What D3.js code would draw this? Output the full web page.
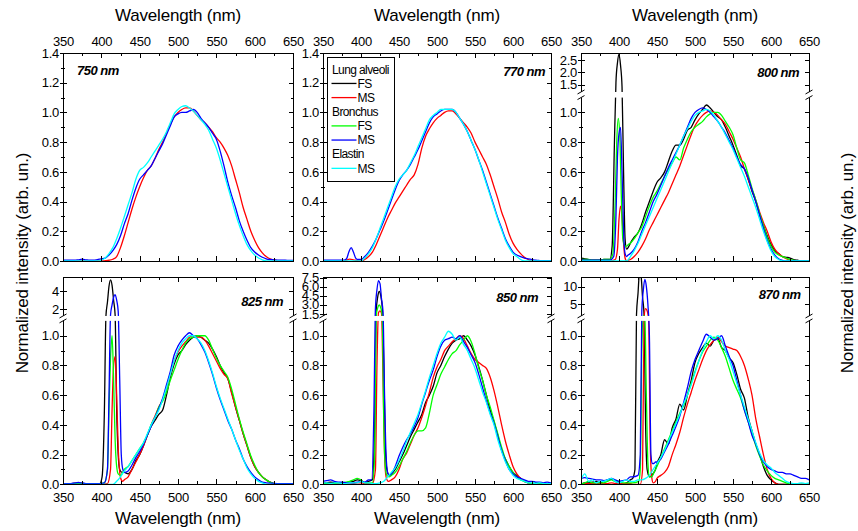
<!DOCTYPE html>
<html><head><meta charset="utf-8">
<script src="https://cdn.jsdelivr.net/npm/d3@7"></script>
<style>
body{margin:0;background:#fff;}
svg{font-family:"Liberation Sans",Arial,sans-serif;}
</style></head><body>
<svg id="c" width="858" height="531"></svg>
<script>
// ---------- DATA ----------
const wl = [350,355,360,365,370,375,380,385,390,395,
            400,405,410,415,420,425,430,435,440,445,
            450,455,460,465,470,475,480,485,490,495,
            500,505,510,515,520,525,530,535,540,545,
            550,555,560,565,570,575,580,585,590,595,
            600,605,610,615,620,625,630,635,640,645,650];

const seriesNames = ["FS","MS","FS","MS","MS"];
const seriesGroups = ["Lung alveoli","Lung alveoli","Bronchus","Bronchus","Elastin"];
const seriesColors = ["#000000","#ff0000","#00ff00","#0000ff","#00ffff"];
const panelLabels = ["750 nm","770 nm","800 nm","825 nm","850 nm","870 nm"];
const xMajor = [350,400,450,500,550,600,650];
const xMinor = [375,425,475,525,575,625];
const yMajorFull = [0,0.2,0.4,0.6,0.8,1.0,1.2,1.4];
const yMinorFull = [0.1,0.3,0.5,0.7,0.9,1.1,1.3];
const yMajorBroken = [0,0.2,0.4,0.6,0.8,1.0];
const yMinorBroken = [0.1,0.3,0.5,0.7,0.9];
const upperTicks800 = [1.5,2.0,2.5];
const upperTicks825 = [2,4];
const upperTicks850 = [1.5,3.0,4.5,6.0,7.5];
const upperTicks870 = [5,10];

// 750 nm
const red750 = [0,0,0,0,0,0,0,0,0,0,
 0,0.002,0.005,0.012,0.03,0.09,0.17,0.26,0.35,0.43,
 0.5,0.56,0.61,0.64,0.69,0.75,0.8,0.86,0.92,0.97,
 1.0,1.02,1.03,1.03,1.01,0.98,0.95,0.93,0.9,0.87,
 0.83,0.8,0.76,0.71,0.64,0.55,0.46,0.36,0.28,0.2,
 0.14,0.09,0.055,0.03,0.015,0.007,0.002,0,0,0,0];
const blue750 = [0.005,0.005,0.005,0.005,0.008,0.012,0.008,0.005,0.005,0.01,
 0.015,0.02,0.04,0.07,0.11,0.17,0.25,0.32,0.41,0.49,
 0.55,0.58,0.61,0.64,0.69,0.74,0.79,0.85,0.91,0.97,
 0.99,1.0,1.0,1.01,1.02,1.0,0.96,0.93,0.9,0.86,
 0.82,0.74,0.64,0.53,0.44,0.36,0.27,0.2,0.14,0.09,
 0.06,0.04,0.025,0.015,0.01,0.008,0.006,0.005,0.005,0.004,0.004];
const cyan750 = [0,0,0,0,0,0,0,0,0,0,
 0.005,0.02,0.05,0.09,0.15,0.22,0.3,0.38,0.46,0.55,
 0.61,0.63,0.66,0.7,0.74,0.78,0.82,0.87,0.93,0.99,
 1.02,1.04,1.045,1.03,1.01,0.98,0.95,0.92,0.88,0.82,
 0.76,0.68,0.59,0.5,0.41,0.32,0.24,0.17,0.11,0.07,
 0.04,0.02,0.008,0,0,0,0,0,0,0,0];

// 770 nm
const red770 = [0,0,0,0,0,0,0.004,0.012,0.008,0.002,
 0,0.01,0.03,0.06,0.11,0.17,0.23,0.29,0.34,0.39,
 0.43,0.47,0.51,0.55,0.58,0.65,0.76,0.84,0.89,0.93,
 0.96,0.98,1.0,1.01,1.01,0.99,0.96,0.93,0.9,0.86,
 0.8,0.75,0.7,0.65,0.58,0.5,0.42,0.33,0.26,0.18,
 0.12,0.08,0.05,0.025,0.01,0,0,0,0,0,0];
const blue770 = [0.005,0.005,0.005,0.005,0.005,0.005,0.008,0.08,0.05,0.01,
 0.01,0.03,0.06,0.1,0.15,0.21,0.27,0.34,0.41,0.48,
 0.54,0.58,0.61,0.65,0.7,0.75,0.81,0.87,0.93,0.97,
 0.99,1.01,1.02,1.02,1.02,1.0,0.96,0.92,0.87,0.81,
 0.75,0.68,0.61,0.53,0.45,0.37,0.29,0.22,0.15,0.1,
 0.06,0.04,0.03,0.02,0.015,0.01,0.005,0.003,0.002,0.002,0.002];
const blue770Peak = [[378,0.006],[381,0.015],[384,0.06],[387,0.09],[390,0.06],[393,0.02],[396,0.01],[399,0.01]];
const cyan770 = [0,0,0,0,0,0,0,0,0,0,
 0,0.02,0.05,0.09,0.15,0.22,0.29,0.36,0.43,0.5,
 0.55,0.58,0.61,0.66,0.71,0.77,0.83,0.89,0.95,0.98,
 1.0,1.02,1.02,1.02,1.02,1.0,0.96,0.92,0.87,0.81,
 0.75,0.68,0.6,0.52,0.44,0.36,0.28,0.21,0.14,0.09,
 0.05,0.03,0.01,0,0,0,0,0,0,0,0];

// 800 nm
const black800 = [0.02,0.015,0.01,0.005,0.005,0.005,0.01,0.01,0.01,0.8,
 2.75,0.6,0.08,0.12,0.16,0.19,0.25,0.33,0.4,0.47,
 0.53,0.56,0.6,0.67,0.74,0.78,0.78,0.82,0.88,0.9,
 0.95,0.99,1.02,1.05,1.03,1.0,0.97,0.95,0.9,0.84,
 0.78,0.71,0.64,0.62,0.55,0.47,0.4,0.31,0.24,0.17,
 0.11,0.07,0.05,0.03,0.025,0.02,0.01,0.005,0,0,0];
const black800Peak = [[388,0.01],[391,0.1],[394,0.8],[396,1.6],[398,2.4],[400,2.75],[402,2.3],[404,1.4],[406,0.6],[408,0.15],[410,0.08],[412,0.09]];
const red800 = [0.005,0.005,0.005,0,0,0,0,0,0,0.01,
 0.28,0.12,0,0.01,0.03,0.06,0.1,0.15,0.21,0.26,
 0.31,0.36,0.41,0.46,0.52,0.58,0.64,0.71,0.78,0.85,
 0.91,0.95,0.98,1.0,1.01,1.0,0.98,0.95,0.92,0.87,
 0.82,0.76,0.7,0.62,0.55,0.48,0.41,0.33,0.26,0.2,
 0.13,0.08,0.05,0.03,0.015,0.005,0,0,0,0,0];
const red800Peak = [[388,0],[395,0.01],[398,0.08],[400,0.28],[402,0.37],[404,0.3],[406,0.12],[408,0.02],[410,0],[412,0.005]];
const green800 = [0.01,0.01,0.01,0.005,0.005,0.005,0.01,0.01,0.01,0.4,
 0.9,0.15,0.1,0.12,0.15,0.19,0.23,0.3,0.37,0.43,
 0.47,0.52,0.57,0.62,0.66,0.7,0.68,0.76,0.82,0.87,
 0.9,0.92,0.94,0.97,0.99,1.0,1.0,0.98,0.94,0.9,
 0.85,0.76,0.68,0.66,0.58,0.49,0.41,0.32,0.24,0.16,
 0.1,0.06,0.04,0.03,0.02,0.01,0.005,0,0,0,0];
const green800Peak = [[388,0.01],[392,0.05],[395,0.4],[397,0.8],[399,0.96],[401,0.85],[403,0.45],[405,0.15],[408,0.1],[410,0.1],[412,0.11]];
const blue800 = [0.01,0.005,0.005,0.005,0.005,0.005,0.005,0.005,0.005,0.1,
 0.86,0.15,0.03,0.05,0.08,0.13,0.2,0.26,0.33,0.4,
 0.45,0.51,0.57,0.63,0.68,0.73,0.78,0.84,0.9,0.96,
 1.0,1.02,1.03,1.02,1.0,0.97,0.94,0.9,0.86,0.81,
 0.76,0.7,0.65,0.62,0.56,0.48,0.4,0.31,0.22,0.14,
 0.08,0.04,0.015,0.005,0,0,0,0,0,0,0];
const blue800Peak = [[388,0.005],[393,0.03],[396,0.3],[398,0.7],[400,0.86],[402,0.9],[404,0.6],[406,0.2],[408,0.05],[410,0.03],[412,0.04]];
const cyan800 = [0,0,0,0,0,0,0,0,0,0,
 0,0,0,0.03,0.07,0.12,0.18,0.24,0.3,0.36,
 0.42,0.48,0.54,0.6,0.66,0.72,0.78,0.84,0.89,0.94,
 0.98,1.0,1.01,1.02,1.01,0.98,0.94,0.9,0.85,0.8,
 0.75,0.69,0.63,0.57,0.5,0.43,0.36,0.28,0.2,0.13,
 0.07,0.03,0.01,0,0,0,0,0,0,0,0];

// 825 nm
const black825 = [0.005,0.005,0.005,0.008,0.01,0.008,0.005,0.005,0.005,0.005,
 0.02,1.0,4.5,3.8,0.5,0.1,0.08,0.07,0.1,0.16,
 0.2,0.26,0.33,0.39,0.43,0.47,0.5,0.6,0.72,0.81,
 0.87,0.9,0.94,0.97,0.99,1.0,0.99,0.97,0.95,0.91,
 0.86,0.8,0.75,0.71,0.62,0.52,0.43,0.34,0.26,0.18,
 0.12,0.08,0.05,0.03,0.015,0.005,0,0,0,0,0];
const black825Peak = [[398,0.005],[401,0.05],[404,0.5],[406,1.3],[408,2.8],[410,4.5],[412,5.2],[414,4.6],[416,3.0],[418,1.4],[420,0.5],[422,0.2],[424,0.1],[427,0.08],[430,0.08]];
const red825 = [0,0,0,0,0,0,0,0,0,0,
 0,0,0.1,0.8,0.6,0.05,0.03,0.05,0.1,0.15,
 0.2,0.26,0.33,0.4,0.46,0.52,0.57,0.64,0.74,0.83,
 0.89,0.93,0.96,0.99,1.0,0.99,0.99,0.97,0.93,0.88,
 0.83,0.78,0.74,0.71,0.61,0.52,0.43,0.34,0.26,0.18,
 0.12,0.08,0.05,0.03,0.015,0.005,0,0,0,0,0];
const red825Peak = [[398,0],[408,0.005],[412,0.1],[414,0.5],[416,0.8],[418,0.86],[420,0.6],[422,0.25],[424,0.08],[426,0.03],[428,0.02],[430,0.03]];
const green825 = [0.005,0.005,0.005,0.005,0.005,0.005,0.005,0.005,0.005,0.005,
 0.005,0.02,0.5,0.85,0.12,0.06,0.1,0.12,0.16,0.2,
 0.24,0.28,0.33,0.4,0.45,0.52,0.56,0.62,0.7,0.77,
 0.84,0.9,0.95,0.98,0.99,1.0,1.0,1.0,0.97,0.91,
 0.85,0.8,0.76,0.72,0.64,0.54,0.44,0.35,0.27,0.19,
 0.13,0.08,0.05,0.03,0.015,0.005,0,0,0,0,0];
const green825Peak = [[398,0.005],[404,0.01],[408,0.1],[410,0.5],[412,0.85],[414,1.0],[416,0.7],[418,0.3],[420,0.12],[422,0.07],[425,0.06],[428,0.08],[430,0.1]];
const blue825 = [0.005,0.005,0.005,0.008,0.012,0.008,0.005,0.005,0.005,0.005,
 0.005,0.01,0.6,2.9,3.0,0.2,0.08,0.09,0.13,0.18,
 0.22,0.27,0.33,0.39,0.45,0.51,0.58,0.67,0.76,0.87,
 0.93,0.97,1.0,1.02,1.0,0.98,0.94,0.89,0.82,0.74,
 0.65,0.57,0.5,0.43,0.37,0.3,0.24,0.17,0.12,0.08,
 0.05,0.03,0.015,0.01,0.008,0.006,0.005,0.005,0.005,0.005,0.005];
const blue825Peak = [[398,0.005],[404,0.01],[408,0.1],[410,0.6],[412,1.4],[414,2.5],[416,3.3],[418,3.6],[420,3.0],[422,1.8],[424,0.7],[426,0.2],[428,0.1],[430,0.08]];
const cyan825 = [0,0,0,0,0,0,0,0,0,0,
 0,0,0,0,0.02,0.05,0.09,0.12,0.16,0.2,
 0.24,0.28,0.34,0.4,0.45,0.5,0.57,0.65,0.74,0.83,
 0.9,0.95,0.98,1.0,1.0,0.98,0.95,0.9,0.83,0.75,
 0.66,0.58,0.51,0.44,0.37,0.3,0.23,0.17,0.11,0.07,
 0.04,0.02,0.01,0,0,0,0,0,0,0,0];

// 850 nm
const black850 = [0.01,0.01,0.015,0.01,0.01,0.01,0.01,0.015,0.02,0.03,
 0.025,0.01,0.02,0.4,4.5,2.5,0.8,0.1,0.07,0.1,
 0.15,0.2,0.26,0.32,0.37,0.42,0.47,0.55,0.6,0.66,
 0.75,0.8,0.86,0.91,0.95,0.97,0.98,1.0,0.97,0.93,
 0.87,0.79,0.7,0.6,0.5,0.42,0.33,0.23,0.17,0.12,
 0.08,0.06,0.04,0.02,0.01,0.005,0.005,0.005,0.005,0.005,0.005];
const black850Peak = [[410,0.02],[415,0.03],[418,0.4],[420,2.0],[422,4.3],[424,5.2],[426,4.5],[428,2.5],[430,0.8],[432,0.25],[434,0.1],[437,0.06],[440,0.07]];
const red850 = [0,0,0,0,0,0,0,0,0.005,0.01,
 0.01,0.005,0.005,0.005,0.8,2.0,0.2,0.02,0.03,0.05,
 0.1,0.17,0.21,0.27,0.33,0.38,0.45,0.53,0.62,0.72,
 0.79,0.84,0.9,0.93,0.96,0.98,1.0,0.98,0.93,0.88,
 0.84,0.82,0.8,0.78,0.72,0.63,0.52,0.4,0.29,0.2,
 0.12,0.07,0.04,0.02,0.01,0.005,0.005,0.005,0.005,0.005,0.005];
const red850Peak = [[410,0.005],[415,0.005],[419,0.1],[421,0.8],[423,1.7],[425,2.0],[427,1.6],[429,0.7],[431,0.2],[433,0.05],[436,0.02],[440,0.03]];
const green850 = [0.005,0.005,0.005,0.005,0.01,0.01,0.015,0.02,0.03,0.04,
 0.03,0.01,0.01,0.01,1.2,3.0,0.4,0.06,0.06,0.08,
 0.12,0.17,0.22,0.28,0.33,0.36,0.36,0.38,0.48,0.6,
 0.67,0.74,0.79,0.84,0.88,0.9,0.94,0.97,1.0,0.96,
 0.88,0.78,0.7,0.6,0.52,0.43,0.34,0.25,0.17,0.12,
 0.08,0.05,0.03,0.02,0.01,0.005,0.01,0.005,0.005,0,0];
const green850Peak = [[410,0.01],[415,0.01],[418,0.2],[420,1.2],[422,2.5],[424,3.0],[426,2.5],[428,1.2],[430,0.4],[432,0.12],[434,0.06],[437,0.05],[440,0.06]];
const blue850 = [0.02,0.025,0.03,0.02,0.015,0.015,0.01,0.01,0.01,0.015,
 0.02,0.015,0.03,0.03,5.5,6.5,0.6,0.08,0.07,0.12,
 0.19,0.25,0.3,0.34,0.39,0.45,0.54,0.62,0.7,0.77,
 0.86,0.93,0.97,0.98,0.99,0.98,1.0,0.96,0.92,0.87,
 0.82,0.74,0.65,0.56,0.48,0.41,0.32,0.23,0.16,0.1,
 0.07,0.05,0.04,0.03,0.02,0.02,0.015,0.015,0.01,0.015,0.01];
const blue850Peak = [[410,0.03],[414,0.03],[417,0.5],[419,2.5],[421,5.5],[423,7.0],[425,6.5],[427,4.0],[429,1.8],[431,0.6],[433,0.2],[435,0.08],[437,0.06],[440,0.07]];
const cyan850 = [0.01,0.01,0.005,0.01,0.01,0.005,0.005,0.01,0.01,0.01,
 0.02,0.01,0.01,0.005,0.005,0.01,0.02,0.05,0.08,0.11,
 0.16,0.22,0.29,0.35,0.41,0.47,0.55,0.63,0.72,0.8,
 0.88,0.95,0.99,1.03,1.01,0.97,0.99,0.94,0.9,0.84,
 0.78,0.7,0.62,0.55,0.47,0.4,0.3,0.22,0.15,0.1,
 0.06,0.04,0.03,0.02,0.01,0.01,0.005,0.01,0.005,0.005,0.005];

// 870 nm
const black870 = [0,0.01,0.01,0.015,0.02,0.01,0.02,0.03,0.035,0.02,
 0.01,0,0.01,0.03,0.1,8,7,0.4,0.05,0.06,
 0.14,0.2,0.3,0.27,0.38,0.44,0.54,0.5,0.6,0.7,
 0.82,0.88,0.92,0.95,0.93,0.97,0.98,0.92,0.9,0.85,
 0.82,0.74,0.64,0.58,0.45,0.36,0.27,0.2,0.12,0.06,
 0.03,0.01,0,0,0,0,0,0,0,0,0];
const black870Peak = [[418,0.04],[421,0.1],[423,2],[425,8],[427,14],[429,13],[431,7],[433,2],[435,0.4],[437,0.1],[440,0.05],[443,0.06],[446,0.08],[448,0.1]];
const red870 = [0,0.005,0.005,0.005,0.005,0.005,0.005,0.005,0.01,0.005,
 0.005,0.005,0.005,0.005,0,0,0,3.5,0.3,0.01,
 0.04,0.06,0.08,0.12,0.2,0.27,0.35,0.45,0.54,0.62,
 0.7,0.77,0.84,0.9,0.94,0.97,0.99,0.96,0.93,0.92,
 0.91,0.9,0.86,0.8,0.71,0.6,0.44,0.32,0.2,0.1,
 0.04,0.01,0,0,0,0,0,0,0,0,0];
const red870Peak = [[418,0],[428,0],[431,0.1],[433,1.5],[435,3.8],[437,3.2],[439,1.2],[441,0.3],[443,0.05],[445,0.01],[448,0.02]];
const green870 = [0,0.01,0.02,0.01,0.01,0.01,0.01,0.02,0.03,0.02,
 0.02,0.01,0.01,0.01,0.01,0.02,1.2,0.6,0.05,0.07,
 0.12,0.18,0.24,0.3,0.36,0.42,0.48,0.53,0.6,0.68,
 0.76,0.83,0.89,0.93,0.97,0.99,0.97,0.92,0.86,0.78,
 0.7,0.64,0.58,0.5,0.42,0.34,0.26,0.19,0.13,0.09,
 0.06,0.04,0.03,0.02,0.01,0,0,0,0,0,0];
const green870Peak = [[418,0.01],[426,0.02],[428,0.1],[430,0.9],[432,1.8],[434,1.5],[436,0.6],[438,0.15],[440,0.05],[443,0.05],[446,0.08],[448,0.1]];
const blue870 = [0.04,0.045,0.04,0.035,0.03,0.03,0.025,0.03,0.04,0.03,
 0.02,0.025,0.03,0.05,0.06,0.06,3,10,1,0.14,
 0.15,0.17,0.22,0.27,0.33,0.39,0.46,0.55,0.65,0.76,
 0.84,0.9,0.96,1.01,0.99,0.97,0.98,1.0,0.93,0.86,
 0.8,0.7,0.6,0.5,0.42,0.33,0.27,0.2,0.15,0.12,
 0.1,0.09,0.08,0.08,0.07,0.07,0.06,0.05,0.04,0.04,0.03];
const blue870Peak = [[418,0.05],[425,0.06],[428,0.2],[430,3],[432,9],[434,12],[436,10],[438,5],[440,1],[442,0.2],[444,0.14],[446,0.14],[448,0.15]];
const cyan870 = [0.03,0.07,0.02,0.03,0.01,0.02,0.02,0.03,0.04,0.02,
 0.01,0.02,0.03,0.02,0.02,0.03,0.03,0.04,0.06,0.1,
 0.14,0.18,0.23,0.29,0.35,0.41,0.47,0.54,0.6,0.67,
 0.75,0.83,0.9,0.96,1.0,0.98,1.0,0.97,0.9,0.84,
 0.76,0.68,0.6,0.52,0.44,0.36,0.28,0.21,0.16,0.13,
 0.11,0.08,0.06,0.04,0.02,0.01,0.005,0.005,0.01,0.005,0.01];

// ---------- BUILD ----------
const panelSeries = [
  [null, red750, null, blue750, cyan750],
  [null, red770, null, blue770, cyan770],
  [black800, red800, green800, blue800, cyan800],
  [black825, red825, green825, blue825, cyan825],
  [black850, red850, green850, blue850, cyan850],
  [black870, red870, green870, blue870, cyan870]
];
const panelPeaks = [
  [null,null,null,null,null],
  [null,null,null,blue770Peak,null],
  [black800Peak, red800Peak, green800Peak, blue800Peak, null],
  [black825Peak, red825Peak, green825Peak, blue825Peak, null],
  [black850Peak, red850Peak, green850Peak, blue850Peak, null],
  [black870Peak, red870Peak, green870Peak, blue870Peak, null]
];
const panelUpper = [null, null,
  {dom:[1.2,2.8], ticks:upperTicks800, fmt:d3.format(".1f")},
  {dom:[1.3,5.5], ticks:upperTicks825, fmt:d3.format("d")},
  {dom:[1.15,7.6], ticks:upperTicks850, fmt:d3.format(".1f")},
  {dom:[1.7,12.7], ticks:upperTicks870, fmt:d3.format("d")}
];

// ---------- LAYOUT ----------
const FONT = '"Liberation Sans", Arial, sans-serif';
const cols = [[63,293],[323,551],[581,809]];
const rows = [{top:53,bottom:261,gap:5.6},{top:277,bottom:484.3,gap:4.9}];
const ppu = (261-53)/1.4;
const labelPos = [
  {x:77,y:75,anchor:"start"},{x:545,y:76,anchor:"end"},{x:799,y:77.3,anchor:"end"},
  {x:283,y:306,anchor:"end"},{x:538,y:301.7,anchor:"end"},{x:800.5,y:299.3,anchor:"end"}
];

const svg = d3.select("#c");
const defs = svg.append("defs");
const fmt1 = d3.format(".1f");

function styleAxis(sel){
  sel.select(".domain").remove();
  sel.attr("font-family", null).attr("font-size", null);
  sel.selectAll("text").style("font-family", FONT).style("font-size","13px").style("letter-spacing","-0.3px").attr("fill","#000");
  sel.selectAll("line").attr("stroke","#000").attr("shape-rendering","crispEdges");
}

function points(vals, peak){
  const base = wl.map((w,i)=>[w, vals[i]]);
  if(!peak) return base;
  const lo = peak[0][0], hi = peak[peak.length-1][0];
  return base.filter(p=>p[0]<lo || p[0]>hi).concat(peak).sort((a,b)=>a[0]-b[0]);
}

for(let i=0;i<6;i++){
  const col = i%3, row = Math.floor(i/3);
  const [x0,x1] = cols[col];
  const {top,bottom,gap} = rows[row];
  const up = panelUpper[i];
  const x = d3.scaleLinear().domain([350,650]).range([x0,x1]);
  let y, lowerTop, upperBottom;
  if(!up){
    y = d3.scaleLinear().domain([0,1.4]).range([bottom,top]);
  } else {
    lowerTop = bottom - 1.1*ppu;
    upperBottom = lowerTop - gap;
    y = d3.scaleLinear().domain([0,1.1,up.dom[0],up.dom[1]]).range([bottom,lowerTop,upperBottom,top]);
  }
  const g = svg.append("g");
  const cid = "clip"+i;
  defs.append("clipPath").attr("id",cid).append("rect")
    .attr("x",x0).attr("y",top).attr("width",x1-x0).attr("height",bottom-top);

  // curves
  const line = d3.line().x(d=>x(d[0])).y(d=>y(d[1])).curve(d3.curveMonotoneX);
  const cg = g.append("g").attr("clip-path",`url(#${cid})`);
  panelSeries[i].forEach((vals,k)=>{
    if(!vals) return;
    cg.append("path").datum(points(vals, panelPeaks[i][k]))
      .attr("d",line).attr("fill","none").attr("stroke",seriesColors[k])
      .attr("stroke-width",1.3).attr("stroke-linejoin","round");
  });

  // frame
  g.append("rect").attr("x",x0).attr("y",top).attr("width",x1-x0).attr("height",bottom-top)
    .attr("fill","none").attr("stroke","#000").attr("stroke-width",1).attr("shape-rendering","crispEdges");

  // y axes
  const majL = up ? yMajorBroken : yMajorFull;
  const minL = up ? yMinorBroken : yMinorFull;
  const ya = g.append("g");
  ya.append("g").attr("transform",`translate(${x0},0)`)
    .call(d3.axisLeft(y).tickValues(majL).tickSize(3).tickPadding(1).tickFormat(fmt1)).call(styleAxis);
  ya.append("g").attr("transform",`translate(${x0},0)`)
    .call(d3.axisRight(y).tickValues(majL).tickSize(4).tickFormat("")).call(styleAxis);
  ya.append("g").attr("transform",`translate(${x0},0)`)
    .call(d3.axisLeft(y).tickValues(minL).tickSize(2).tickFormat("")).call(styleAxis);
  ya.append("g").attr("transform",`translate(${x0},0)`)
    .call(d3.axisRight(y).tickValues(minL).tickSize(2).tickFormat("")).call(styleAxis);
  ya.append("g").attr("transform",`translate(${x1},0)`)
    .call(d3.axisLeft(y).tickValues(majL).tickSize(4).tickFormat("")).call(styleAxis);
  ya.append("g").attr("transform",`translate(${x1},0)`)
    .call(d3.axisLeft(y).tickValues(minL).tickSize(2).tickFormat("")).call(styleAxis);
  if(up){
    ya.append("g").attr("transform",`translate(${x0},0)`)
      .call(d3.axisLeft(y).tickValues(up.ticks).tickSize(3).tickPadding(1).tickFormat(up.fmt)).call(styleAxis);
    ya.append("g").attr("transform",`translate(${x0},0)`)
      .call(d3.axisRight(y).tickValues(up.ticks).tickSize(4).tickFormat("")).call(styleAxis);
    ya.append("g").attr("transform",`translate(${x1},0)`)
      .call(d3.axisLeft(y).tickValues(up.ticks).tickSize(4).tickFormat("")).call(styleAxis);
  }

  // x axes
  const labelled = row===0 ? d3.axisTop(x) : d3.axisBottom(x);
  const yl = row===0 ? top : bottom;
  g.append("g").attr("transform",`translate(0,${yl})`)
    .call(labelled.tickValues(xMajor).tickSize(-5).tickPadding(row===0?7:8).tickFormat(d3.format("d"))).call(styleAxis);
  g.append("g").attr("transform",`translate(0,${yl})`)
    .call((row===0?d3.axisTop(x):d3.axisBottom(x)).tickValues(xMinor).tickSize(-3).tickFormat("")).call(styleAxis);
  const yo = row===0 ? bottom : top;
  g.append("g").attr("transform",`translate(0,${yo})`)
    .call((row===0?d3.axisBottom(x):d3.axisTop(x)).tickValues(xMajor).tickSize(-5).tickFormat("")).call(styleAxis);
  g.append("g").attr("transform",`translate(0,${yo})`)
    .call((row===0?d3.axisBottom(x):d3.axisTop(x)).tickValues(xMinor).tickSize(-3).tickFormat("")).call(styleAxis);

  // axis break
  if(up){
    g.append("rect").attr("x",x0-1.5).attr("y",upperBottom).attr("width",x1-x0+3).attr("height",lowerTop-upperBottom)
      .attr("fill","#fff");
    [x0,x1].forEach(xx=>{
      [upperBottom,lowerTop].forEach(yy=>{
        g.append("line").attr("x1",xx-3.5).attr("y1",yy+2).attr("x2",xx+3.5).attr("y2",yy-2)
          .attr("stroke","#000").attr("stroke-width",1);
      });
    });
  }

  // panel label
  g.append("text").attr("x",labelPos[i].x).attr("y",labelPos[i].y).attr("text-anchor",labelPos[i].anchor)
    .style("font-family",FONT).style("font-size","13px").style("font-weight","bold").style("font-style","italic")
    .style("letter-spacing","-0.5px").text(panelLabels[i]);

  // x title
  svg.append("text").attr("x",(x0+x1)/2).attr("y", row===0 ? 20.7 : 524)
    .attr("text-anchor","middle").style("font-family",FONT).style("font-size","17px")
    .style("letter-spacing","-0.2px").text("Wavelength (nm)");
}

// y titles
[[27.5,263],[852.5,263]].forEach(([tx,ty])=>{
  svg.append("text").attr("transform",`translate(${tx},${ty}) rotate(-90)`)
    .attr("text-anchor","middle").style("font-family",FONT).style("font-size","17px")
    .style("letter-spacing","-0.2px").text("Normalized intensity (arb. un.)");
});

// legend (panel 770)
const lg = svg.append("g");
lg.append("rect").attr("x",327.5).attr("y",57.5).attr("width",67).attr("height",124)
  .attr("fill","#fff").attr("stroke","#000").attr("stroke-width",1).attr("shape-rendering","crispEdges");
let row_i = 0; let lastGroup = null;
const rowY = k => 69.3 + k*14.15;
seriesNames.forEach((nm,k)=>{
  if(seriesGroups[k]!==lastGroup){
    lg.append("text").attr("x",332).attr("y",rowY(row_i)).attr("dy","0.35em")
      .style("font-family",FONT).style("font-size","12px").style("letter-spacing","-0.6px").text(seriesGroups[k]);
    lastGroup = seriesGroups[k]; row_i++;
  }
  const yy = rowY(row_i);
  lg.append("line").attr("x1",331.5).attr("x2",356.5).attr("y1",yy).attr("y2",yy)
    .attr("stroke",seriesColors[k]).attr("stroke-width",1.3);
  lg.append("text").attr("x",357.5).attr("y",yy).attr("dy","0.35em")
    .style("font-family",FONT).style("font-size","12px").style("letter-spacing","-0.6px").text(nm);
  row_i++;
});
</script></body></html>
